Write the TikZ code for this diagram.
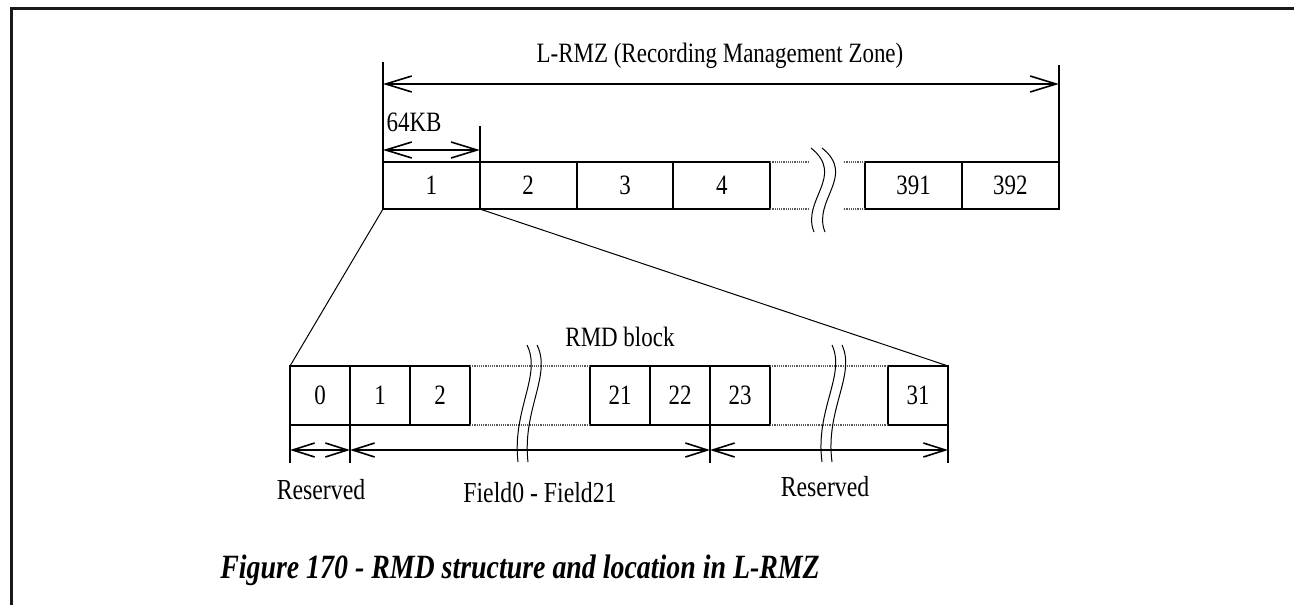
\documentclass[tikz,border=0pt]{standalone}
\usepackage{fontspec}
\setmainfont{Liberation Serif}[FakeStretch=0.82]
\usetikzlibrary{arrows.meta,positioning}
\tikzset{
  cell/.style={draw,line width=1pt,minimum width=48.4pt,minimum height=23.5pt,
    inner sep=0pt,outer sep=0pt,font=\fontsize{14}{16}\selectfont},
  gapcell/.style={minimum width=47.5pt,minimum height=23.5pt,inner sep=0pt,outer sep=0pt},
  subcell/.style={cell,minimum width=30pt,minimum height=29.5pt},
  subgap/.style={gapcell,minimum width=60pt,minimum height=29.5pt},
  dimline/.style={{Straight Barb[length=13pt,width=8pt]}-{Straight Barb[length=13pt,width=8pt]},line width=0.8pt},
  subdim/.style={{Straight Barb[length=11pt,width=7pt]}-{Straight Barb[length=11pt,width=7pt]},line width=0.8pt},
  extline/.style={line width=0.8pt},
  hatch/.style={gray!70!black,line width=1.2pt,dash pattern=on 0.6pt off 0.5pt},
  breakline/.style={line width=0.5pt},
  lbl/.style={font=\fontsize{14}{16}\selectfont,inner sep=0pt},
  caption/.style={font=\fontsize{17}{20}\selectfont\bfseries\itshape,inner sep=0pt}
}
\begin{document}
\begin{tikzpicture}[x=0.5pt,y=-0.5pt]
  \useasboundingbox (0,0) rectangle (1294,605);
  \draw[line width=1.5pt,black!90] (11.5,605) -- (11.5,8.5) -- (1294,8.5);

  % L-RMZ row
  \node[cell,anchor=north west] (b1) at (383,162) {1};
  \node[cell,right=0pt of b1] (b2) {2};
  \node[cell,right=0pt of b2] (b3) {3};
  \node[cell,right=0pt of b3] (b4) {4};
  \node[gapcell,right=0pt of b4] (g1) {};
  \node[cell,right=0pt of g1] (b391) {391};
  \node[cell,right=0pt of b391] (b392) {392};
  \draw[hatch] (g1.north west) -- +(39,0);
  \draw[hatch] (g1.south west) -- +(39,0);
  \draw[hatch] (g1.north east) -- +(-22,0);
  \draw[hatch] (g1.south east) -- +(-22,0);
  \foreach \dx in {0,11}
    \draw[breakline,xshift=\dx*0.5pt] (811,148) .. controls (846,176) and (801,200) .. (814,232);

  \draw[extline] (b1.north west) -- +(0,-100);
  \draw[extline] (b392.north east) -- +(0,-97);
  \draw[dimline] ([yshift=39pt]b1.north west) -- ([yshift=39pt]b392.north east);
  \node[lbl] (rmz) at (720,56) {L-RMZ (Recording Management Zone)};
  \draw[extline] (b1.north east) -- +(0,-36);
  \draw[dimline] ([yshift=6pt]b1.north west) -- ([yshift=6pt]b1.north east);
  \node[lbl] (size) at (414,122) {64KB};

  % RMD block row
  \node[subcell,anchor=north west] (c0) at (290,366) {0};
  \node[subcell,right=0pt of c0] (c1) {1};
  \node[subcell,right=0pt of c1] (c2) {2};
  \node[subgap,right=0pt of c2] (ga) {};
  \node[subcell,right=0pt of ga] (c21) {21};
  \node[subcell,right=0pt of c21] (c22) {22};
  \node[subcell,right=0pt of c22] (c23) {23};
  \node[subgap,minimum width=59pt,right=0pt of c23] (gb) {};
  \node[subcell,right=0pt of gb] (c31) {31};
  \draw[hatch] (ga.north west) -- (ga.north east);
  \draw[hatch] (ga.south west) -- (ga.south east);
  \draw[hatch] (gb.north west) -- (gb.north east);
  \draw[hatch] (gb.south west) -- (gb.south east);
  \node[lbl] (rmd) at (620,337) {RMD block};

  \draw[breakline] (b1.south west) -- (c0.north west);
  \draw[breakline] (b1.south east) -- (c31.north east);

  \foreach \c in {c0,c1,c23}
    \draw[extline] (\c.south west) -- +(0,38);
  \draw[extline] (c31.south east) -- +(0,38);
  \draw[subdim] ([yshift=-12.5pt]c0.south west) -- ([yshift=-12.5pt]c1.south west);
  \draw[subdim] ([yshift=-12.5pt]c1.south west) -- ([yshift=-12.5pt]c23.south west);
  \draw[subdim] ([yshift=-12.5pt]c23.south west) -- ([yshift=-12.5pt]c31.south east);
  \foreach \dx in {0,10} {
    \draw[breakline,xshift=\dx*0.5pt] (527,345) .. controls (542,375) and (512,410) .. (518,462);
    \draw[breakline,xshift=\dx*0.5pt] (832,345) .. controls (846,375) and (815,410) .. (822,462);
  }

  \node[lbl,font=\fontsize{14.5}{16}\selectfont] (res1) at (321,490) {Reserved};
  \node[lbl,font=\fontsize{14.5}{16}\selectfont] (fields) at (540,493) {Field0 - Field21};
  \node[lbl,font=\fontsize{14.5}{16}\selectfont] (res2) at (825,487) {Reserved};

  \node[caption] (cap) at (520,570) {Figure 170 - RMD structure and location in L-RMZ};
\end{tikzpicture}
\end{document}
